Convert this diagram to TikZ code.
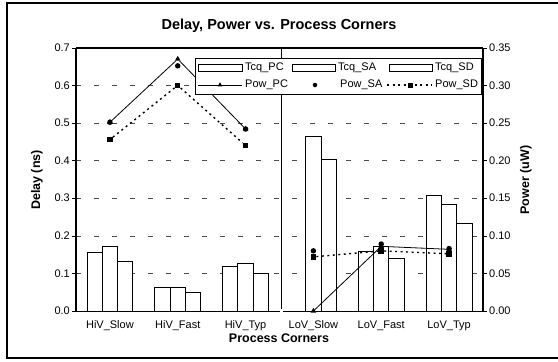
\documentclass[tikz,border=0pt]{standalone}
\usepackage{fontspec}
\setmainfont{Liberation Sans}
\usetikzlibrary{shapes.geometric}

\begin{document}
\begin{tikzpicture}[
    x=1pt, y=-1pt,
    frame/.style={draw=black, line width=1.6pt},
    axis/.style={line width=1.8pt},
    grid/.style={gray!60!black, line width=0.6pt, dash pattern=on 5pt off 13pt},
    bar/.style={draw=black, fill=white, line width=0.8pt},
    lab/.style={font=\fontsize{11}{13}\selectfont, inner sep=0pt},
    axtitle/.style={font=\fontsize{12.5}{14}\selectfont\bfseries, inner sep=0pt},
    tri/.style={regular polygon, regular polygon sides=3, fill=black, inner sep=0pt, minimum size=6.5pt},
    dot/.style={circle, fill=black, inner sep=0pt, minimum size=5.5pt},
    sq/.style={rectangle, fill=black, inner sep=0pt, minimum size=5.5pt},
    pcline/.style={line width=0.8pt},
    sdline/.style={line width=1.4pt, dash pattern=on 2pt off 3.5pt}
  ]

  \useasboundingbox (0,0) rectangle (558,362);
  \draw[frame] (7,3) rectangle (570,358);

  % Title
  \node[font=\fontsize{14.5}{16}\selectfont\bfseries] (title) at (279,26) {Delay, Power vs. Process Corners};

  % Grid lines
  \foreach \k in {1,...,6}
    \draw[grid] (76,311-37.6*\k) -- (483,311-37.6*\k);

  % Ticks and tick labels, both axes
  \foreach \k/\dl/\pl in {0/0.0/0.00, 1/0.1/0.05, 2/0.2/0.10, 3/0.3/0.15, 4/0.4/0.20, 5/0.5/0.25, 6/0.6/0.30, 7/0.7/0.35} {
    \draw[line width=0.6pt] (72,311-37.6*\k) -- (76,311-37.6*\k);
    \node[lab, anchor=east] (dl\k) at (70,311-37.6*\k) {\dl};
    \draw[line width=0.6pt] (483,311-37.6*\k) -- (487,311-37.6*\k);
    \node[lab, anchor=west] (pl\k) at (489,311-37.6*\k) {\pl};
  }

  % Bars: Tcq_PC, Tcq_SA, Tcq_SD
  \foreach \i/\a/\b/\c in {1/0.157/0.172/0.133, 2/0.062/0.062/0.050, 3/0.118/0.127/0.100,
                           4/0/0.465/0.404, 5/0.159/0.171/0.139, 6/0.307/0.284/0.234} {
    \draw[bar] ({76+67.83*(\i-0.5)-23},311) rectangle +(15.3,-376*\a);
    \draw[bar] ({76+67.83*(\i-0.5)-7.7},311) rectangle +(15.3,-376*\b);
    \draw[bar] ({76+67.83*(\i-0.5)+7.6},311) rectangle +(15.3,-376*\c);
  }

  % Category labels
  \foreach \i/\name in {1/HiV\_Slow, 2/HiV\_Fast, 3/HiV\_Typ, 4/LoV\_Slow, 5/LoV\_Fast, 6/LoV\_Typ}
    \node[lab] (cat\i) at ({76+67.83*(\i-0.5)},326) {\name};

  % Plot frame and HiV/LoV divider
  \draw[axis] (76,48) -- (76,311);
  \draw[axis] (483,48) -- (483,311);
  \draw[line width=1.4pt] (76,48) -- (483,48);
  \draw[line width=0.8pt] (76,311) -- (279.5,311);
  \draw[line width=0.8pt] (282.5,311) -- (483,311);
  \draw[line width=1pt] (281,48) -- (281,309);

  % Power points
  \foreach \i/\p in {1/0.251, 2/0.335, 3/0.242, 4/0.0, 5/0.086, 6/0.082}
    \node[tri] (pc\i) at ({76+67.83*(\i-0.5)},311-752*\p) {};
  \foreach \i/\p in {1/0.228, 2/0.300, 3/0.220, 4/0.072, 5/0.080, 6/0.076}
    \node[sq] (sd\i) at ({76+67.83*(\i-0.5)},311-752*\p) {};
  \foreach \i/\p in {1/0.251, 2/0.326, 3/0.242, 4/0.080, 5/0.089, 6/0.083}
    \node[dot] (sa\i) at ({76+67.83*(\i-0.5)},311-752*\p) {};

  \draw[pcline] (pc1) -- (pc2) -- (pc3);
  \draw[pcline] (pc4) -- (pc5) -- (pc6);
  \draw[sdline] (sd1) -- (sd2) -- (sd3);
  \draw[sdline] (sd4) -- (sd5) -- (sd6);

  % Axis titles
  \node[axtitle, rotate=90] (ytl) at (37,180) {Delay (ns)};
  \node[axtitle, rotate=90] (ytr) at (526,180) {Power (uW)};
  \node[axtitle] (xt) at (279,338) {Process Corners};

  % Legend
  \node[draw, fill=white, line width=0.8pt, minimum width=286pt, minimum height=36pt, inner sep=0pt] (legend) at (338,76) {};
  \draw[bar] (198,64) rectangle (242,71);
  \node[lab, anchor=west] (lpc) at (245,67.5) {Tcq\_PC};
  \draw[bar] (292,64) rectangle (335,71);
  \node[lab, anchor=west] (lsa) at (338,67.5) {Tcq\_SA};
  \draw[bar] (389,64) rectangle (432,71);
  \node[lab, anchor=west] (lsd) at (435,67.5) {Tcq\_SD};

  \coordinate (pcA) at (198,85);
  \coordinate (pcB) at (242,85);
  \draw[pcline] (pcA) -- (pcB);
  \node[tri, minimum size=5.5pt] (lgpc) at (220,85) {};
  \node[lab, anchor=west] (lppc) at (245,85) {Pow\_PC};
  \node[dot, minimum size=4.5pt] (lgsa) at (315,85) {};
  \node[lab, anchor=west] (lpsa) at (340,85) {Pow\_SA};
  \coordinate (sdA) at (387,85);
  \coordinate (sdB) at (432,85);
  \draw[sdline] (sdA) -- (sdB);
  \node[sq, minimum size=5pt] (lgsd) at (410,85) {};
  \node[lab, anchor=west] (lpsd) at (435,85) {Pow\_SD};

\end{tikzpicture}
\end{document}
